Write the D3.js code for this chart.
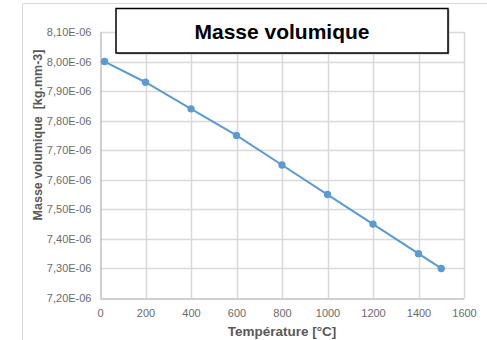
<!DOCTYPE html>
<html><head><meta charset="utf-8">
<script src="https://cdn.jsdelivr.net/npm/d3@7"></script>
<style>body{margin:0;background:#fff}svg{display:block}</style>
</head><body>
<script>
const temperatures = [20, 200, 400, 600, 800, 1000, 1200, 1400, 1500];
const densities = [8.00e-6, 7.93e-6, 7.84e-6, 7.75e-6, 7.65e-6, 7.55e-6, 7.45e-6, 7.35e-6, 7.30e-6];
const xTicks = [0, 200, 400, 600, 800, 1000, 1200, 1400, 1600];
const yTicks = [7.20e-6, 7.30e-6, 7.40e-6, 7.50e-6, 7.60e-6, 7.70e-6, 7.80e-6, 7.90e-6, 8.00e-6, 8.10e-6];
const yTickLabels = ["7,20E-06","7,30E-06","7,40E-06","7,50E-06","7,60E-06","7,70E-06","7,80E-06","7,90E-06","8,00E-06","8,10E-06"];
const title = "Masse volumique";
const xTitle = "Température [°C]";
const yTitle = "Masse volumique  [kg.mm-3]";

const W = 487, H = 340;
const svg = d3.select("body").append("svg").attr("width", W).attr("height", H);
const font = "'Liberation Sans', Arial, sans-serif";

// outer chart frame
svg.append("path").attr("d", `M22.5,${H} V3.5 H${W}`).attr("fill","none").attr("stroke","#d9d9d9").attr("stroke-width",1);

const L = 100, R = 464, T = 32, B = 298;
const x = d3.scaleLinear().domain([0,1600]).range([L,R]);
const y = d3.scaleLinear().domain([7.2e-6, 8.1e-6]).range([B,T]);

// gridlines
svg.append("g").selectAll("line").data(xTicks.slice(1)).join("line")
  .attr("x1",d=>Math.round(x(d))+0.5).attr("x2",d=>Math.round(x(d))+0.5)
  .attr("y1",T).attr("y2",B).attr("stroke","#d9d9d9").attr("stroke-width",1.5);
svg.append("g").selectAll("line").data(yTicks.slice(1)).join("line")
  .attr("y1",d=>Math.round(y(d))+0.5).attr("y2",d=>Math.round(y(d))+0.5)
  .attr("x1",L).attr("x2",R).attr("stroke","#d9d9d9").attr("stroke-width",1.5);

// axes
const xAxis = d3.axisBottom(x).tickValues(xTicks).tickSize(0).tickPadding(11).tickFormat(d3.format("d"));
const gx = svg.append("g").attr("transform",`translate(0,${B+0.5})`).call(xAxis);
gx.select(".domain").attr("stroke","#bfbfbf").attr("stroke-width",1.5);
gx.selectAll("text").attr("fill","#6b6b6b").attr("font-size",11).attr("font-family",font);

const yAxis = d3.axisLeft(y).tickValues(yTicks).tickSize(0).tickPadding(9).tickFormat((d,i)=>yTickLabels[i]);
const gy = svg.append("g").attr("transform",`translate(${L+0.5},0)`).call(yAxis);
gy.select(".domain").attr("stroke","#bfbfbf").attr("stroke-width",1.5);
gy.selectAll("text").attr("fill","#6b6b6b").attr("font-size",11).attr("font-family",font);

// line + markers
const pts = temperatures.map((t,i)=>[t, densities[i]]);
svg.append("path").datum(pts)
  .attr("d", d3.line().x(d=>x(d[0])).y(d=>y(d[1])))
  .attr("fill","none").attr("stroke","#5b9bd5").attr("stroke-width",2);
svg.append("g").selectAll("circle").data(pts).join("circle")
  .attr("cx",d=>x(d[0])).attr("cy",d=>y(d[1])).attr("r",3.7).attr("fill","#5b9bd5");

// axis titles
svg.append("text").attr("x",(L+R)/2).attr("y",336).attr("text-anchor","middle")
  .attr("font-family",font).attr("font-weight","bold").attr("font-size",13.5).attr("fill","#595959").text(xTitle);
svg.append("text").attr("transform",`translate(42,135) rotate(-90)`).attr("text-anchor","middle")
  .style("white-space","pre")
  .attr("font-family",font).attr("font-weight","bold").attr("font-size",12.5).attr("fill","#595959").text(yTitle);

// title box
svg.append("rect").attr("x",117.5).attr("y",10).attr("width",332).attr("height",44.5)
  .attr("fill","#bdbdbd");
svg.append("rect").attr("x",116).attr("y",8.5).attr("width",332).attr("height",44.5)
  .attr("fill","#fff").attr("stroke","#000").attr("stroke-width",1.5);
svg.append("text").attr("x",282).attr("y",39).attr("text-anchor","middle")
  .attr("font-family",font).attr("font-weight","bold").attr("font-size",21).attr("fill","#000").text(title);
</script>
</body></html>
